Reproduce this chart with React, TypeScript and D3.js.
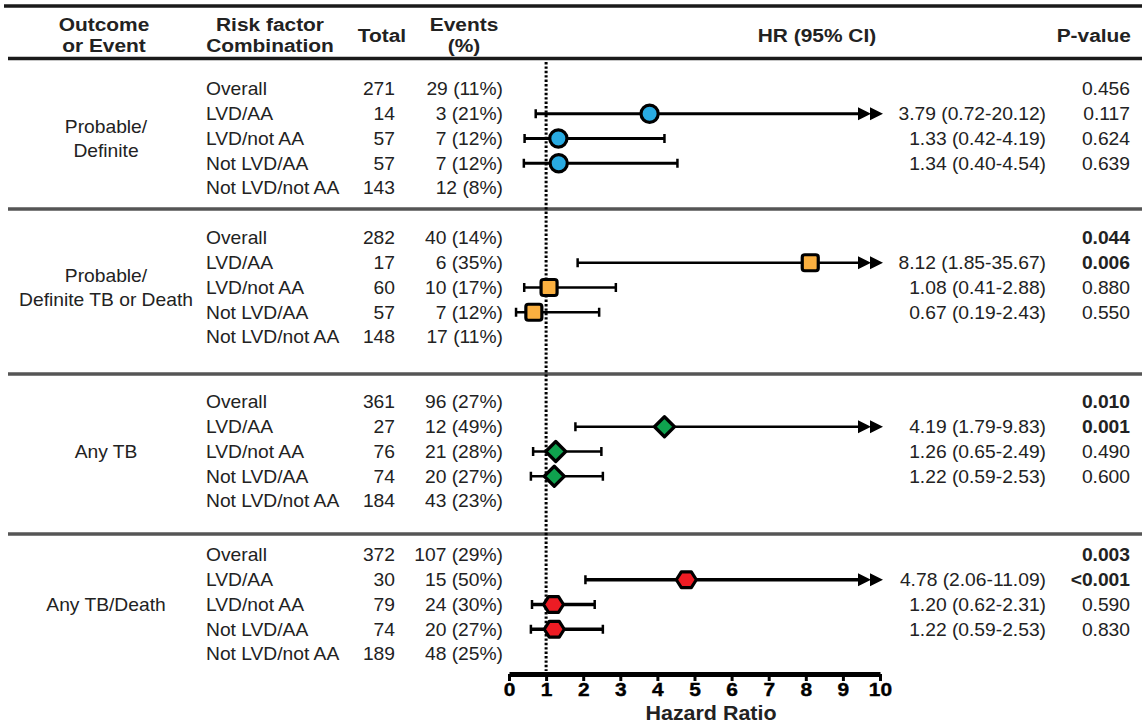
import React, { useEffect, useRef } from 'react';
import * as d3 from 'd3';

// ---------- DATA ----------
const outcomes: string[][] = [
  ['Probable/', 'Definite'],
  ['Probable/', 'Definite TB or Death'],
  ['Any TB'],
  ['Any TB/Death'],
];
const riskFactors = ['Overall', 'LVD/AA', 'LVD/not AA', 'Not LVD/AA', 'Not LVD/not AA'];
const totals = [
  [271, 14, 57, 57, 143],
  [282, 17, 60, 57, 148],
  [361, 27, 76, 74, 184],
  [372, 30, 79, 74, 189],
];
const eventCounts = [
  [29, 3, 7, 7, 12],
  [40, 6, 10, 7, 17],
  [96, 12, 21, 20, 43],
  [107, 15, 24, 20, 48],
];
const eventPcts = [
  [11, 21, 12, 12, 8],
  [14, 35, 17, 12, 11],
  [27, 49, 28, 27, 23],
  [29, 50, 30, 27, 25],
];
// hazard ratios for LVD/AA, LVD/not AA, Not LVD/AA (vs Not LVD/not AA)
const hrPoint = [
  [3.79, 1.33, 1.34],
  [8.12, 1.08, 0.67],
  [4.19, 1.26, 1.22],
  [4.78, 1.2, 1.22],
];
const hrLower = [
  [0.72, 0.42, 0.4],
  [1.85, 0.41, 0.19],
  [1.79, 0.65, 0.59],
  [2.06, 0.62, 0.59],
];
const hrUpper = [
  [20.12, 4.19, 4.54],
  [35.67, 2.88, 2.43],
  [9.83, 2.49, 2.53],
  [11.09, 2.31, 2.53],
];
const pValues = [
  ['0.456', '0.117', '0.624', '0.639'],
  ['0.044', '0.006', '0.880', '0.550'],
  ['0.010', '0.001', '0.490', '0.600'],
  ['0.003', '<0.001', '0.590', '0.830'],
];
const axisTicks = [0, 1, 2, 3, 4, 5, 6, 7, 8, 9, 10];
const refLine = 1;

// ---------- STYLE / LAYOUT ----------
const W = 1142;
const H = 725;
const FONT = "'Liberation Sans', Arial, Helvetica, sans-serif";
const SX = 1.1;
const groupTop = [89, 238, 402, 555];
const rowStep = 24.75;
const separators = [209, 374, 534];
const markerFill = ['#29ABE2', '#FBB040', '#0FA24E', '#ED1C24'];
const barWidth = [3, 2.3, 2.6, 3.4];
const axisY = 674;

const x = d3.scaleLinear().domain([0, 10]).range([509, 880]);

function T({ x: tx, y, anchor = 'start', size = 17.5, bold = false, children }: any) {
  return (
    <g transform={`translate(${tx},${y}) scale(${SX},1)`}>
      <text
        textAnchor={anchor}
        fontSize={size}
        fontWeight={bold ? 'bold' : 'normal'}
        fontFamily={FONT}
        fill="#222"
      >
        {children}
      </text>
    </g>
  );
}

function Marker({ g, cx, cy }: { g: number; cx: number; cy: number }) {
  const common = { fill: markerFill[g], stroke: '#000', strokeWidth: 3.2, strokeLinejoin: 'round' as const };
  if (g === 0) return <circle cx={cx} cy={cy} r={8.6} {...common} />;
  if (g === 1) return <rect x={cx - 8} y={cy - 8} width={16} height={16} rx={2.5} {...common} />;
  if (g === 2) {
    const d = 10;
    return <polygon points={`${cx - d},${cy} ${cx},${cy - d} ${cx + d},${cy} ${cx},${cy + d}`} {...common} />;
  }
  const pts = [
    [-10, 0], [-5, -7.8], [5, -7.8], [10, 0], [5, 7.8], [-5, 7.8],
  ].map(([a, b]) => `${cx + a},${cy + b}`).join(' ');
  return <polygon points={pts} {...common} />;
}

function ErrorBar({ g, lo, hi, cy }: { g: number; lo: number; hi: number; cy: number }) {
  const max = x.domain()[1];
  const truncated = hi > max * 0.95;
  const x0 = x(lo);
  const xEnd = x(max);
  const sw = barWidth[g];
  if (truncated) {
    const tip2 = xEnd + 3;
    const tip1 = tip2 - 12;
    const len = 13;
    const hh = 6.5;
    return (
      <g>
        <line x1={x0} x2={tip1 - len + 1} y1={cy} y2={cy} stroke="#000" strokeWidth={sw} />
        <line x1={x0} x2={x0} y1={cy - 4.5} y2={cy + 4.5} stroke="#000" strokeWidth={2.5} />
        <polygon points={`${tip1 - len},${cy - hh} ${tip1},${cy} ${tip1 - len},${cy + hh}`} fill="#000" />
        <polygon points={`${tip2 - len},${cy - hh} ${tip2},${cy} ${tip2 - len},${cy + hh}`} fill="#000" />
      </g>
    );
  }
  const x1 = x(hi);
  return (
    <g>
      <line x1={x0} x2={x1} y1={cy} y2={cy} stroke="#000" strokeWidth={sw} />
      <line x1={x0} x2={x0} y1={cy - 4.5} y2={cy + 4.5} stroke="#000" strokeWidth={2.5} />
      <line x1={x1} x2={x1} y1={cy - 4.5} y2={cy + 4.5} stroke="#000" strokeWidth={2.5} />
    </g>
  );
}

function Axis() {
  const ref = useRef<SVGGElement>(null);
  useEffect(() => {
    if (!ref.current) return;
    const g = d3.select(ref.current);
    g.call(d3.axisBottom(x).tickValues(axisTicks).tickSize(7).tickSizeOuter(0).tickPadding(2).tickFormat(d3.format('d')) as any);
    g.select('.domain').attr('stroke', '#000').attr('stroke-width', 5);
    g.selectAll('.tick line').attr('stroke', '#000').attr('stroke-width', 3);
    g.selectAll('.tick text')
      .attr('fill', '#000')
      .attr('font-size', 19)
      .attr('font-weight', 'bold')
      .attr('font-family', FONT)
      .attr('stroke', '#000')
      .attr('stroke-width', 0.4)
      .attr('transform', `scale(${SX},1)`);
  }, []);
  return <g ref={ref} transform={`translate(0,${axisY})`} />;
}

const isSig = (p: string) => parseFloat(p.replace('<', '')) < 0.05;

export default function App() {
  return (
    <svg width={W} height={H} style={{ position: 'absolute', left: 0, top: 0, background: '#fff' }}>
      <rect width={W} height={H} fill="#fff" />
      {/* rules */}
      <line x1={4} x2={W} y1={6} y2={6} stroke="#1a1a1a" strokeWidth={3.5} />
      <line x1={8} x2={W} y1={58.5} y2={58.5} stroke="#1a1a1a" strokeWidth={3.5} />
      {separators.map((sy, i) => (
        <line key={i} x1={8} x2={W} y1={sy} y2={sy} stroke="#555" strokeWidth={3.5} />
      ))}

      {/* header */}
      <T x={104} y={31} anchor="middle" size={19} bold>Outcome</T>
      <T x={104} y={52} anchor="middle" size={19} bold>or Event</T>
      <T x={270} y={31} anchor="middle" size={19} bold>Risk factor</T>
      <T x={270} y={52} anchor="middle" size={19} bold>Combination</T>
      <T x={382} y={42} anchor="middle" size={19} bold>Total</T>
      <T x={464} y={31} anchor="middle" size={19} bold>Events</T>
      <T x={464} y={52} anchor="middle" size={19} bold>(%)</T>
      <T x={817} y={42} anchor="middle" size={19} bold>HR (95% CI)</T>
      <T x={1131} y={42} anchor="end" size={19} bold>P-value</T>

      {/* reference line */}
      <line x1={x(refLine)} x2={x(refLine)} y1={62} y2={671} stroke="#000" strokeWidth={3} strokeDasharray="2.4,2" />

      {outcomes.map((lines, g) => {
        const rowY = (r: number) => groupTop[g] + r * rowStep;
        const labelMid = rowY(2);
        return (
          <g key={g}>
            {lines.map((ln, k) => (
              <T key={k} x={106} y={labelMid + 6.3 + (k - (lines.length - 1) / 2) * 24} anchor="middle">
                {ln}
              </T>
            ))}
            {riskFactors.map((rf, r) => (
              <g key={r}>
                <T x={206} y={rowY(r) + 6.3}>{rf}</T>
                <T x={395} y={rowY(r) + 6.3} anchor="end">{totals[g][r]}</T>
                <T x={503} y={rowY(r) + 6.3} anchor="end">{`${eventCounts[g][r]} (${eventPcts[g][r]}%)`}</T>
              </g>
            ))}
            {pValues[g].map((p, k) => (
              <T key={k} x={1130} y={rowY(k) + 6.3} anchor="end" bold={isSig(p)}>{p}</T>
            ))}
            {hrPoint[g].map((hr, k) => {
              const cy = rowY(k + 1);
              return (
                <g key={k}>
                  <ErrorBar g={g} lo={hrLower[g][k]} hi={hrUpper[g][k]} cy={cy} />
                  <Marker g={g} cx={x(hr)} cy={cy} />
                  <T x={1046} y={cy + 6.3} anchor="end">
                    {`${hr.toFixed(2)} (${hrLower[g][k].toFixed(2)}-${hrUpper[g][k].toFixed(2)})`}
                  </T>
                </g>
              );
            })}
          </g>
        );
      })}

      <Axis />
      <T x={711} y={720} anchor="middle" size={19.5} bold>Hazard Ratio</T>
    </svg>
  );
}
